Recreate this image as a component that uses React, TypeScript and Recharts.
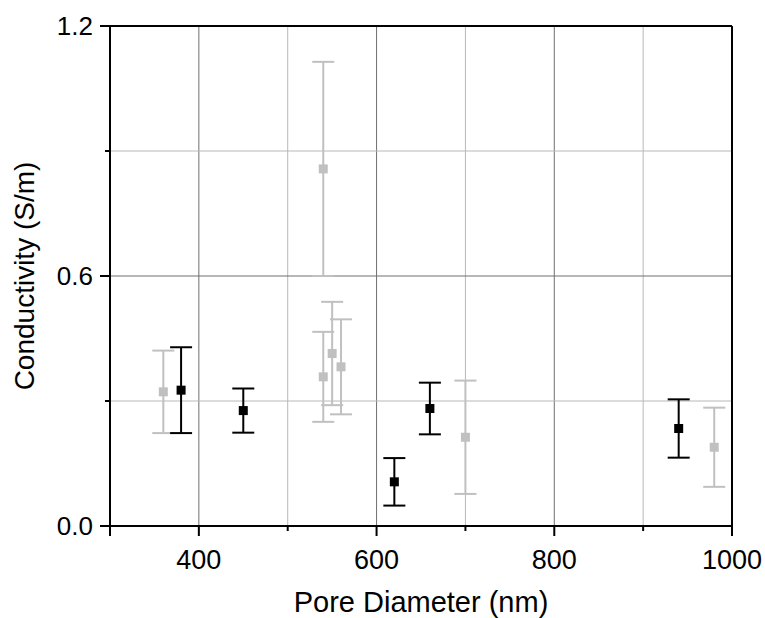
import React from 'react';
import {
  ScatterChart,
  Scatter,
  XAxis,
  YAxis,
  ErrorBar,
  ReferenceLine,
  Label,
} from 'recharts';

// black series (filled squares)
const blackX = [380, 450, 620, 660, 940];
const blackY = [0.326, 0.277, 0.106, 0.282, 0.234];
const blackErr = [0.103, 0.053, 0.057, 0.062, 0.07];

// gray series
const grayX = [360, 540, 540, 550, 560, 700, 980];
const grayY = [0.322, 0.857, 0.358, 0.414, 0.382, 0.213, 0.189];
const grayErr = [0.099, 0.257, 0.108, 0.124, 0.114, 0.136, 0.095];

// axes
const xTicks = [300, 400, 500, 600, 700, 800, 900, 1000];
const xMajor = [300, 400, 600, 800, 1000];
const xLabeled = [400, 600, 800, 1000];
const yTicks = [0, 0.3, 0.6, 0.9, 1.2];
const yMajor = [0, 0.6, 1.2];
const yLabeled = [0, 0.6, 1.2];

// grid lines
const xGridMajor = [400, 600, 800];
const xGridMinor = [500, 700, 900];
const yGridMajor = [0.6];
const yGridMinor = [0.3, 0.9];

const blackData = blackX.map((x, i) => ({ x, y: blackY[i], err: blackErr[i] }));
const grayData = grayX.map((x, i) => ({ x, y: grayY[i], err: grayErr[i] }));

const FONT = '"Liberation Sans", Arial, sans-serif';

const BottomTick = (props: any) => {
  const { x, y, payload } = props;
  const v = payload.value;
  const len = xMajor.includes(v) ? 10 : 5;
  return (
    <g>
      <line x1={x} y1={y} x2={x} y2={y + len} stroke="#000" strokeWidth={2} />
      {xLabeled.includes(v) && (
        <text x={x} y={y + 43} textAnchor="middle" fontSize={27} fontFamily={FONT} fill="#000">
          {v}
        </text>
      )}
    </g>
  );
};

const TopTick = (props: any) => {
  const { x, y, payload } = props;
  const len = xMajor.includes(payload.value) ? 10 : 5;
  return <line x1={x} y1={y} x2={x} y2={y + len} stroke="#000" strokeWidth={2} />;
};

const LeftTick = (props: any) => {
  const { x, y, payload } = props;
  const v = payload.value;
  const len = yMajor.includes(v) ? 10 : 5;
  return (
    <g>
      <line x1={x - len} y1={y} x2={x} y2={y} stroke="#000" strokeWidth={2} />
      {yLabeled.includes(v) && (
        <text x={x - 17} y={y + 8.5} textAnchor="end" fontSize={26} fontFamily={FONT} fill="#000">
          {v.toFixed(1)}
        </text>
      )}
    </g>
  );
};

const RightTick = (props: any) => {
  const { x, y, payload } = props;
  const len = yMajor.includes(payload.value) ? 10 : 5;
  return <line x1={x - len} y1={y} x2={x} y2={y} stroke="#000" strokeWidth={2} />;
};

const blackSquare = (p: any) => (
  <rect x={p.cx - 4.5} y={p.cy - 4.5} width={9} height={9} fill="#000" />
);
const graySquare = (p: any) => (
  <rect x={p.cx - 4.5} y={p.cy - 4.5} width={9} height={9} fill="#c0c0c0" />
);

export default function App() {
  const axisLine = { stroke: '#000', strokeWidth: 2 };
  return (
    <div style={{ position: 'absolute', left: 0, top: 0, background: '#fff' }}>
      <ScatterChart width={765} height={618} margin={{ top: 0, right: 0, bottom: 0, left: 0 }}>
        <XAxis
          dataKey="x"
          type="number"
          domain={[300, 1000]}
          ticks={xTicks}
          interval={0}
          height={92}
          tickSize={0}
          tickMargin={0}
          tickLine={false}
          axisLine={axisLine}
          tick={BottomTick}
        >
          <Label
            content={(p: any) => (
              <text
                x={p.viewBox.x + p.viewBox.width / 2}
                y={612}
                textAnchor="middle"
                fontSize={29}
                fontFamily={FONT}
                fill="#000"
              >
                Pore Diameter (nm)
              </text>
            )}
          />
        </XAxis>
        <XAxis
          xAxisId="top"
          orientation="top"
          type="number"
          domain={[300, 1000]}
          ticks={xTicks}
          interval={0}
          height={26}
          tickSize={0}
          tickMargin={0}
          tickLine={false}
          axisLine={axisLine}
          tick={TopTick}
        />
        <YAxis
          dataKey="y"
          type="number"
          domain={[0, 1.2]}
          ticks={yTicks}
          interval={0}
          width={110}
          tickSize={0}
          tickMargin={0}
          tickLine={false}
          axisLine={axisLine}
          tick={LeftTick}
        >
          <Label
            content={(p: any) => {
              const cy = p.viewBox.y + p.viewBox.height / 2;
              return (
                <text
                  x={34}
                  y={cy}
                  transform={`rotate(-90, 34, ${cy})`}
                  textAnchor="middle"
                  fontSize={28}
                  fontFamily={FONT}
                  fill="#000"
                >
                  Conductivity (S/m)
                </text>
              );
            }}
          />
        </YAxis>
        <YAxis
          yAxisId="right"
          orientation="right"
          type="number"
          domain={[0, 1.2]}
          ticks={yTicks}
          interval={0}
          width={33}
          tickSize={0}
          tickMargin={0}
          tickLine={false}
          axisLine={axisLine}
          tick={RightTick}
        />

        {xGridMajor.map((v) => (
          <ReferenceLine key={`xm${v}`} x={v} stroke="#6e6e6e" strokeWidth={1} />
        ))}
        {xGridMinor.map((v) => (
          <ReferenceLine key={`xn${v}`} x={v} stroke="#b8b8b8" strokeWidth={1} />
        ))}
        {yGridMajor.map((v) => (
          <ReferenceLine key={`ym${v}`} y={v} stroke="#6e6e6e" strokeWidth={1} />
        ))}
        {yGridMinor.map((v) => (
          <ReferenceLine key={`yn${v}`} y={v} stroke="#b8b8b8" strokeWidth={1} />
        ))}

        <Scatter data={grayData} shape={graySquare} isAnimationActive={false}>
          <ErrorBar dataKey="err" direction="y" width={11} stroke="#c0c0c0" strokeWidth={2} />
        </Scatter>
        <Scatter data={blackData} shape={blackSquare} isAnimationActive={false}>
          <ErrorBar dataKey="err" direction="y" width={11} stroke="#000" strokeWidth={2} />
        </Scatter>
      </ScatterChart>
    </div>
  );
}
